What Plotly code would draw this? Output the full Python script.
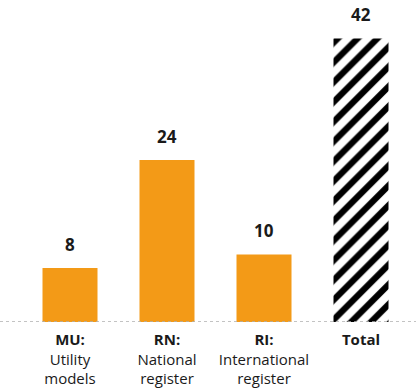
import plotly.graph_objects as go

categories = ["<b>MU:</b><br>Utility<br>models",
              "<b>RN:</b><br>National<br>register",
              "<b>RI:</b><br>International<br>register",
              "<b>Total</b>"]
values = [8, 24, 10, 42]
value_labels = ["8", "24", "10", "42"]

orange = "#F39A17"
FONT = "Open Sans"

fig = go.Figure()
fig.add_trace(go.Bar(
    x=categories[:3], y=values[:3],
    marker=dict(color=orange, line=dict(width=0)),
    width=0.567, hoverinfo="skip",
))
fig.add_trace(go.Bar(
    x=categories[3:], y=values[3:],
    marker=dict(color="white", line=dict(width=0),
                pattern=dict(shape="/", fgcolor="black", bgcolor="white",
                             size=14, solidity=0.45, fillmode="replace")),
    width=0.567, hoverinfo="skip",
))

for c, v, t in zip(categories, values, value_labels):
    fig.add_annotation(x=c, y=v, text=f"<b>{t}</b>", showarrow=False,
                       yanchor="bottom", yshift=10,
                       font=dict(size=17, color="#1a1a1a", family=FONT))

fig.add_shape(type="line", xref="paper", yref="y", x0=0, x1=1, y0=0, y1=0,
              line=dict(color="#b0b0b0", width=1.5, dash="dot"), layer="above")

fig.update_layout(
    width=416, height=388,
    margin=dict(l=0, r=0, t=0, b=66),
    plot_bgcolor="white", paper_bgcolor="white",
    showlegend=False, barmode="overlay",
    font=dict(family=FONT, size=15, color="#1a1a1a"),
)
fig.update_xaxes(categoryorder="array", categoryarray=categories,
                 range=[-0.7216, 3.567], showgrid=False, showline=False,
                 zeroline=False, ticks="", automargin=False,
                 tickfont=dict(size=15, color="#1a1a1a", family=FONT),
                 ticklabelstandoff=7)
fig.update_yaxes(range=[0, 47.7], visible=False, automargin=False)

fig.write_html("out.html", config={"displayModeBar": False},
               post_script="document.body.style.margin='0';document.body.style.overflow='hidden';")
